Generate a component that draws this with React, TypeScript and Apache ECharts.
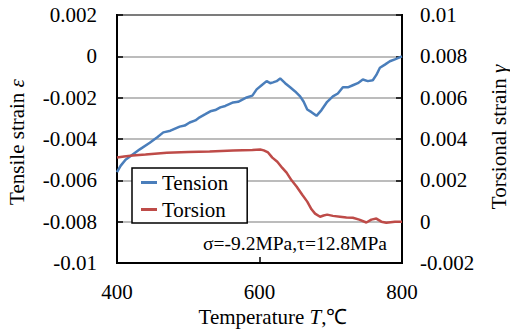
import React, { useEffect, useRef } from "react";
import * as echarts from "echarts";

const FONT = "'Liberation Serif', 'Times New Roman', serif";

const seriesNames = ["Tension", "Torsion"];

// [Temperature (°C), tensile strain]
const tensionData: [number, number][] = [
  [400, -0.0056], [405, -0.0053], [412, -0.005], [422, -0.00475], [432, -0.0045],
  [446, -0.00418], [457, -0.0039], [465, -0.00368], [475, -0.0036], [488, -0.0034],
  [495, -0.00335], [502, -0.0032], [510, -0.0031], [516, -0.00295], [524, -0.0028],
  [531, -0.00266], [538, -0.0026], [545, -0.00247], [552, -0.0024], [563, -0.00223],
  [570, -0.0022], [582, -0.00199], [590, -0.0019], [596, -0.0016], [603, -0.0014],
  [610, -0.0012], [615, -0.0013], [619, -0.00126], [624, -0.0012], [629, -0.00107],
  [636, -0.0013], [643, -0.0015], [650, -0.0017], [657, -0.00194], [662, -0.0022],
  [667, -0.00257], [673, -0.0027], [680, -0.00288], [687, -0.0026], [695, -0.0022],
  [703, -0.00194], [710, -0.0018], [717, -0.0015], [724, -0.0015], [731, -0.0014],
  [738, -0.0013], [745, -0.00112], [752, -0.0012], [759, -0.00116], [764, -0.0009],
  [769, -0.00055], [776, -0.0004], [783, -0.00024], [790, -0.00015], [800, 0],
];

// [Temperature (°C), torsional strain]
const torsionData: [number, number][] = [
  [400, 0.0031], [410, 0.00315], [422, 0.0032], [440, 0.00325], [470, 0.00334],
  [500, 0.00337], [530, 0.0034], [563, 0.00344], [590, 0.00347], [601, 0.00349],
  [606, 0.00345], [612, 0.00335], [618, 0.0031], [625, 0.0029], [632, 0.0026],
  [638, 0.00237], [645, 0.002], [652, 0.0017], [660, 0.0013], [667, 0.00097],
  [673, 0.0006], [678, 0.00039], [685, 0.00024], [690, 0.0003], [695, 0.00034],
  [703, 0.00028], [713, 0.00024], [722, 0.0002], [731, 0.00019], [740, 0.0001],
  [750, -0.00004], [757, 0.0001], [764, 0.00015], [771, 0.0], [778, -0.00005],
  [790, 0], [800, 0],
];

const xAxisRange = { min: 400, max: 800, interval: 200 };
const leftAxisRange = { min: -0.01, max: 0.002, interval: 0.002 };
const rightAxisRange = { min: -0.002, max: 0.01, interval: 0.002 };

const annotation = "σ=-9.2MPa,τ=12.8MPa";

const fmt = (v: number) => String(Number(v.toFixed(4)));

export default function App() {
  const ref = useRef<HTMLDivElement>(null);
  useEffect(() => {
    if (!ref.current) return;
    const chart = echarts.init(ref.current, null, { renderer: "svg" });
    const axisCommon = {
      axisLine: { show: true, onZero: false, lineStyle: { color: "#000", width: 2 } },
      axisTick: { show: true, inside: true, length: 6, lineStyle: { color: "#000", width: 1.5 } },
    };
    const rich = { i: { fontStyle: "italic", fontSize: 21, fontFamily: FONT, fill: "#000" } };
    chart.setOption({
      animation: false,
      textStyle: { fontFamily: FONT },
      grid: {
        left: 117, right: 108, top: 15, bottom: 66,
        show: true, borderColor: "#000", borderWidth: 2,
        containLabel: false, outerBoundsMode: "none",
      },
      xAxis: {
        type: "value", ...xAxisRange,
        ...axisCommon,
        axisLabel: { color: "#000", fontSize: 21, fontFamily: FONT, margin: 18 },
        splitLine: { show: false },
      },
      yAxis: [
        {
          type: "value", position: "left", ...leftAxisRange,
          ...axisCommon,
          axisLabel: { color: "#000", fontSize: 21, fontFamily: FONT, margin: 20, formatter: fmt },
          splitLine: { show: true, lineStyle: { color: "#A6A6A6", width: 1.5 } },
        },
        {
          type: "value", position: "right", ...rightAxisRange,
          ...axisCommon,
          axisLabel: { color: "#000", fontSize: 21, fontFamily: FONT, margin: 18, formatter: fmt },
          splitLine: { show: false },
        },
      ],
      legend: {
        data: seriesNames,
        orient: "vertical",
        left: 132, top: 168,
        icon: "rect", itemWidth: 16, itemHeight: 3, itemGap: 6,
        padding: [4, 19, 3, 9],
        borderColor: "#000", borderWidth: 1.5, backgroundColor: "#fff",
        textStyle: { color: "#000", fontSize: 21, fontFamily: FONT },
      },
      series: [
        {
          name: seriesNames[0], type: "line", yAxisIndex: 0, data: tensionData,
          showSymbol: false, lineStyle: { color: "#4A7EBB", width: 2.5 }, itemStyle: { color: "#4A7EBB" },
        },
        {
          name: seriesNames[1], type: "line", yAxisIndex: 1, data: torsionData,
          showSymbol: false, lineStyle: { color: "#BE4B48", width: 2.5 }, itemStyle: { color: "#BE4B48" },
        },
      ],
      graphic: [
        {
          type: "text", x: 17, y: 142, rotation: Math.PI / 2,
          style: {
            text: "Tensile strain {i|ε}", fontSize: 21, fontFamily: FONT, fill: "#000",
            align: "center", verticalAlign: "middle", textAlign: "center", textVerticalAlign: "middle",
            rich,
          },
        },
        {
          type: "text", x: 499, y: 137, rotation: Math.PI / 2,
          style: {
            text: "Torsional strain {i|γ}", fontSize: 21, fontFamily: FONT, fill: "#000",
            align: "center", verticalAlign: "middle", textAlign: "center", textVerticalAlign: "middle",
            rich,
          },
        },
        {
          type: "text", x: 273, y: 317,
          style: {
            text: "Temperature {i|T},℃", fontSize: 21, fontFamily: FONT, fill: "#000",
            align: "center", verticalAlign: "middle", textAlign: "center", textVerticalAlign: "middle",
            rich,
          },
        },
        {
          type: "text", x: 203, y: 243, z: 10,
          style: {
            text: annotation, fontSize: 19.5, fontFamily: FONT, fill: "#000",
            align: "left", verticalAlign: "middle", textAlign: "left", textVerticalAlign: "middle",
          },
        },
      ],
    });
    return () => chart.dispose();
  }, []);
  return (
    <div
      ref={ref}
      style={{ position: "absolute", left: 0, top: 0, width: 510, height: 329, background: "#fff" }}
    />
  );
}
